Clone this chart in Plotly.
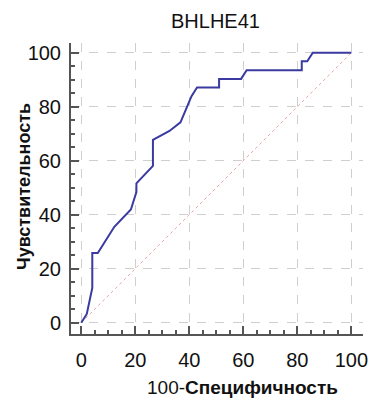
import plotly.graph_objects as go

title = "BHLHE41"
fpr = [0, 2.04, 4.08, 4.08, 6.12, 12.24, 18.37, 20.41, 20.41, 26.53, 26.53, 32.65,
       36.73, 40.82, 42.86, 51.02, 51.02, 59.18, 61.22, 81.63, 81.63, 83.67, 85.71, 100]
tpr = [0, 3.23, 12.9, 25.8, 25.8, 35.5, 41.9, 48.4, 51.6, 58.1, 67.7, 71.0,
       74.2, 83.9, 87.1, 87.1, 90.3, 90.3, 93.5, 93.5, 96.8, 96.8, 100, 100]
diag = [0, 100]
tickvals = [0, 20, 40, 60, 80, 100]

FONT = "Liberation Sans, Arial, sans-serif"

fig = go.Figure()
fig.add_trace(go.Scatter(x=diag, y=diag, mode="lines",
                         line=dict(color="rgb(230,165,165)", width=1, dash="dot"),
                         hoverinfo="skip", showlegend=False))
fig.add_trace(go.Scatter(x=fpr, y=tpr, mode="lines",
                         line=dict(color="#3a3aa0", width=2),
                         showlegend=False))

axis_common = dict(
    tickvals=tickvals, ticks="inside", ticklen=8, tickwidth=1.5, tickcolor="#555",
    showline=True, linecolor="#555", linewidth=2,
    showgrid=True, gridcolor="#cfcfcf", gridwidth=1, griddash="dash",
    zeroline=False, tickfont=dict(family=FONT, size=20, color="#111"),
    minor=dict(dtick=5, tick0=0, ticks="inside", ticklen=4, tickcolor="#555",
               tickwidth=1.5, showgrid=False),
)

fig.update_layout(
    width=379, height=408,
    margin=dict(l=71, r=16, t=43, b=74),
    paper_bgcolor="white", plot_bgcolor="white",
    xaxis=dict(range=[-3.8, 104.3], ticklabelstandoff=7, **axis_common),
    yaxis=dict(range=[-4.2, 103.6], ticklabelstandoff=4, **axis_common),
    annotations=[
        dict(text=title, x=215, y=21, showarrow=False,
             font=dict(family=FONT, size=20, color="#111")),
        dict(text="100-<b>Специфичность</b>", x=242, y=387, showarrow=False,
             font=dict(family=FONT, size=19, color="#111")),
        dict(text="<b>Чувствительность</b>", x=24, y=187, textangle=-90, showarrow=False,
             font=dict(family=FONT, size=18, color="#111")),
    ],
)

# convert pixel annotation positions to paper coords
W, H = 379, 408
l, r, t, b = 71, 16, 43, 74
pw, ph = W - l - r, H - t - b
new_ann = []
for a in fig.layout.annotations:
    px, py = a.x, a.y
    a.update(xref="paper", yref="paper", x=(px - l) / pw, y=1 - (py - t) / ph,
             xanchor="center", yanchor="middle")
    new_ann.append(a)
fig.layout.annotations = new_ann

fig.write_html("out.html")
